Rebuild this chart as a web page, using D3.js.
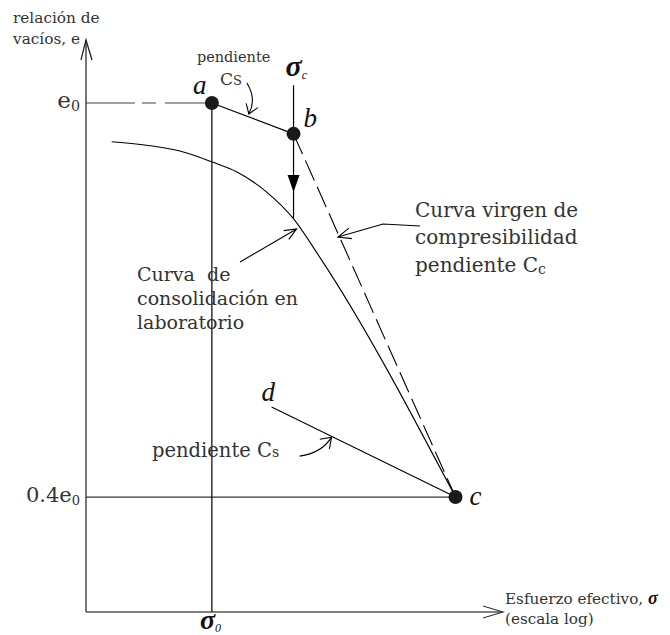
<!DOCTYPE html>
<html>
<head>
<meta charset="utf-8">
<script src="https://cdn.jsdelivr.net/npm/d3@7"></script>
<style>
  html, body { margin: 0; padding: 0; background: #fff; }
  svg text { font-family: "DejaVu Serif", "Liberation Serif", serif; fill: #333; }
  .it { font-family: "Liberation Serif", serif; font-style: italic; fill: #111; }
</style>
</head>
<body>
<svg id="chart" width="670" height="635"></svg>
<script>
// Void ratio e (as a fraction of e0) against effective stress on a log scale
const stressRange = [14.5, 8700];      // kPa, ends of the log axis
const ratioRange = [0.225, 1.096];     // e / e0, ends of the vertical axis
const e0 = 1.0;
const eFinal = 0.4;
const sigma0 = 100;                     // present effective overburden
const sigmaC = 350;                     // preconsolidation stress

// points a, b, c, d as [sigma, e]
const pointA = [100, 1.0];
const pointB = [350, 0.953];
const pointC = [4200, 0.40];
const pointD = [250, 0.537];

// laboratory consolidation curve
const labSigma = [21.5, 38.6, 68, 101, 147, 233, 346, 524, 4200];
const labE     = [0.941, 0.935, 0.924, 0.910, 0.895, 0.864, 0.825, 0.765, 0.40];

const svg = d3.select("#chart");
const x = d3.scaleLog().domain(stressRange).range([86, 503]);
const y = d3.scaleLinear().domain([ratioRange[0], 1.0]).range([612, 103]);

const line = d3.line().x(d => x(d[0])).y(d => y(d[1]));
const smooth = d3.line().x(d => x(d[0])).y(d => y(d[1])).curve(d3.curveMonotoneX);

// axes
const axisColor = "#555";
const x0 = x(stressRange[0]), yBase = y(ratioRange[0]);
const yTop = y(ratioRange[1]);
const xEnd = x(stressRange[1]);
svg.append("line").attr("x1", x0).attr("x2", x0).attr("y1", yBase).attr("y2", yTop)
  .attr("stroke", axisColor).attr("stroke-width", 1.6);
svg.append("path")
  .attr("d", `M${x0 - 5},${yTop + 20} L${x0},${yTop} L${x0 + 6},${yTop + 20}`)
  .attr("fill", "none").attr("stroke", "#222").attr("stroke-width", 1.3);
svg.append("line").attr("x1", x0).attr("x2", xEnd).attr("y1", yBase).attr("y2", yBase)
  .attr("stroke", axisColor).attr("stroke-width", 1.6);
svg.append("path")
  .attr("d", `M${xEnd - 20},${yBase - 6} L${xEnd},${yBase} L${xEnd - 20},${yBase + 6}`)
  .attr("fill", "none").attr("stroke", "#333").attr("stroke-width", 1.1);

// axis titles
const yTitle = svg.append("text").attr("font-size", 15.3);
yTitle.append("tspan").attr("x", 13).attr("y", 23).text("relación de");
yTitle.append("tspan").attr("x", 13).attr("y", 44).text("vacíos, e");

const xTitle = svg.append("text").attr("font-size", 15.2);
xTitle.append("tspan").attr("x", xEnd + 2).attr("y", yBase - 8).text("Esfuerzo efectivo, ");
xTitle.append("tspan").attr("class", "it").attr("font-weight", "bold").attr("font-size", 18).text("σ");
svg.append("text").attr("font-size", 15.2).attr("x", xEnd + 2).attr("y", yBase + 12).text("(escala log)");

// reference lines at e0 and 0.4 e0
svg.append("path").attr("d", line([[stressRange[0], e0], pointA]))
  .attr("fill", "none").attr("stroke", "#444").attr("stroke-width", 1.2)
  .attr("stroke-dasharray", "49 7 14 9 200");
svg.append("path").attr("d", line([[stressRange[0], eFinal], pointC]))
  .attr("fill", "none").attr("stroke", "#333").attr("stroke-width", 1.2);

// vertical at sigma0
svg.append("path").attr("d", line([[sigma0, e0], [sigma0, ratioRange[0]]]))
  .attr("fill", "none").attr("stroke", "#000").attr("stroke-width", 1.2);

// vertical at sigmaC down to the laboratory curve, with a filled arrow head
const sigCTop = 1.027, sigCBottom = labE[6];
svg.append("path").attr("d", line([[sigmaC, sigCTop], [sigmaC, sigCBottom]]))
  .attr("fill", "none").attr("stroke", "#000").attr("stroke-width", 1.2);
{
  const cx = x(sigmaC), tipY = y(sigCBottom) - 26;
  svg.append("path").attr("d", `M${cx - 6},${tipY - 17} L${cx + 6},${tipY - 17} L${cx},${tipY} Z`)
    .attr("fill", "#000");
}

// laboratory curve
svg.append("path").attr("d", smooth(labSigma.map((s, i) => [s, labE[i]])))
  .attr("fill", "none").attr("stroke", "#000").attr("stroke-width", 1.1);

// virgin compression line (dashed)
svg.append("path").attr("d", line([pointB, pointC]))
  .attr("fill", "none").attr("stroke", "#000").attr("stroke-width", 1.1)
  .attr("stroke-dasharray", "22 7");

// recompression a-b and unloading d-c
svg.append("path").attr("d", line([pointA, pointB]))
  .attr("fill", "none").attr("stroke", "#000").attr("stroke-width", 1.1);
svg.append("path").attr("d", line([pointD, pointC]))
  .attr("fill", "none").attr("stroke", "#000").attr("stroke-width", 1.1);

// dots
[pointA, pointB, pointC].forEach(p => {
  svg.append("circle").attr("cx", x(p[0])).attr("cy", y(p[1])).attr("r", 7).attr("fill", "#1a1a1a");
});

// point letters
const letter = (p, dx, dy, t) => svg.append("text").attr("class", "it").attr("font-size", 27)
  .attr("x", x(p[0]) + dx).attr("y", y(p[1]) + dy).text(t);
letter(pointA, -19, -9, "a");
letter(pointB, 10, -7, "b");
letter(pointC, 14, 8, "c");
letter(pointD, -10, -6, "d");

// e0 labels
function sublabel(xr, yb, main, sub, size) {
  const t = svg.append("text").attr("x", xr).attr("y", yb).attr("text-anchor", "end").attr("font-size", size);
  t.append("tspan").text(main);
  t.append("tspan").attr("font-size", size * 0.62).attr("dy", 3).text(sub);
}
sublabel(x0 - 6, y(e0) + 5, "e", "0", 23);
sublabel(x0 - 6, y(eFinal) + 5, "0.4e", "0", 21);

// sigma labels
function sigmaLabel(cx, yb, sub, size) {
  const t = svg.append("text").attr("class", "it").attr("x", cx).attr("y", yb)
    .attr("font-size", size).attr("font-weight", "bold");
  t.append("tspan").text("σ");
  t.append("tspan").attr("font-size", 12).attr("font-weight", "normal").attr("dy", 3).text(sub);
}
sigmaLabel(x(sigmaC) - 8, y(sigCTop) - 9, "c", 30);
sigmaLabel(x(sigma0) - 12, yBase + 17, "0", 28);

// arrow helper: open head at the end of a path
function openHead(tip, from, len, spread) {
  const ang = Math.atan2(tip[1] - from[1], tip[0] - from[0]);
  const p1 = [tip[0] - len * Math.cos(ang - spread), tip[1] - len * Math.sin(ang - spread)];
  const p2 = [tip[0] - len * Math.cos(ang + spread), tip[1] - len * Math.sin(ang + spread)];
  svg.append("path").attr("d", `M${p1} L${tip} L${p2}`)
    .attr("fill", "none").attr("stroke", "#000").attr("stroke-width", 1.1);
}

// "pendiente Cs" near a-b
{
  const mx = x(pointA[0]), my = y(pointA[1]);
  svg.append("text").attr("font-size", 14.5).attr("x", mx - 15).attr("y", my - 41).text("pendiente");
  const t = svg.append("text").attr("font-size", 17).attr("x", mx + 8).attr("y", my - 18);
  t.append("tspan").text("C");
  t.append("tspan").attr("font-size", 13).text("S");
  const s = [mx + 35, my - 20], tip = [mx + 37, my + 11];
  svg.append("path").attr("d", `M${s} Q${mx + 45},${my - 4} ${tip}`)
    .attr("fill", "none").attr("stroke", "#000").attr("stroke-width", 1.1);
  openHead(tip, [mx + 41, my], 11, 0.6);
}

// "pendiente Cs" near d-c
{
  const t = svg.append("text").attr("font-size", 19.5).attr("x", 152).attr("y", y(pointD[1]) + 50);
  t.append("tspan").text("pendiente C");
  t.append("tspan").attr("font-size", 14).text("s");
  const dx = x(pointD[0]), dy = y(pointD[1]);
  const s = [dx + 28, dy + 49], tip = [dx + 60, dy + 30];
  svg.append("path").attr("d", `M${s} Q${dx + 50},${dy + 46} ${tip}`)
    .attr("fill", "none").attr("stroke", "#000").attr("stroke-width", 1.1);
  openHead(tip, [dx + 52, dy + 38], 12, 0.6);
}

// laboratory curve callout
{
  const t = svg.append("text").attr("font-size", 19);
  [["Curva  de", 0], ["consolidación en", 24], ["laboratorio", 48]].forEach(([s, o]) =>
    t.append("tspan").attr("x", 137).attr("y", 281 + o).attr("xml:space", "preserve").text(s));
  const tip = [x(sigmaC) + 3, y(sigCBottom) + 11], s = [240, 262];
  svg.append("line").attr("x1", s[0]).attr("y1", s[1]).attr("x2", tip[0]).attr("y2", tip[1])
    .attr("stroke", "#000").attr("stroke-width", 1.1);
  openHead(tip, s, 13, 0.4);
}

// virgin compression callout
{
  const t = svg.append("text").attr("font-size", 20);
  t.append("tspan").attr("x", 415).attr("y", 217).text("Curva virgen de");
  t.append("tspan").attr("x", 415).attr("y", 244).text("compresibilidad");
  t.append("tspan").attr("x", 415).attr("y", 272).text("pendiente C");
  t.append("tspan").attr("font-size", 14).attr("dy", 2).text("c");
  const tip = [338, 237];
  svg.append("path").attr("d", `M420,226 L383,224 L${tip}`)
    .attr("fill", "none").attr("stroke", "#000").attr("stroke-width", 1.1);
  openHead(tip, [383, 224], 14, 0.4);
}
</script>
</body>
</html>
